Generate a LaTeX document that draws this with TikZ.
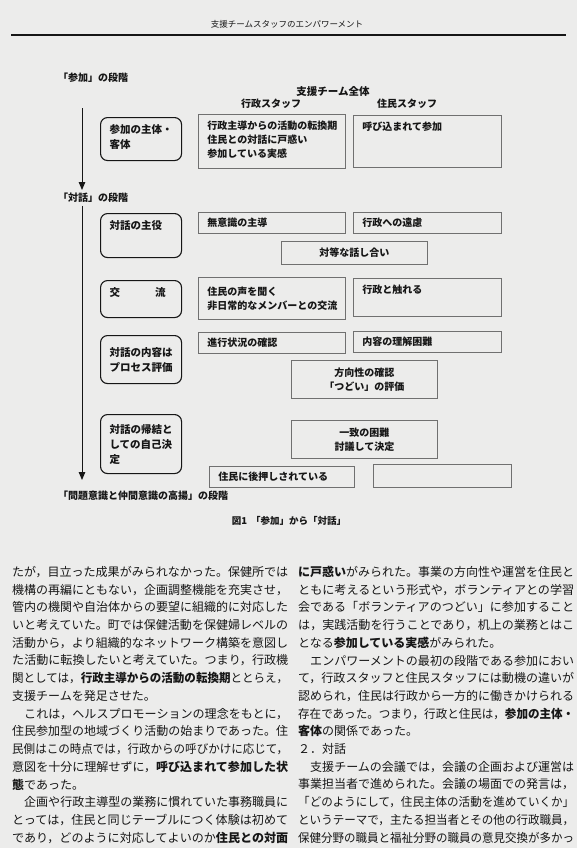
\documentclass[tikz,border=0pt]{standalone}
\usepackage{fontspec}
\usepackage{graphicx}
\usepackage{tikz}
\usetikzlibrary{positioning, arrows.meta, calc}
\newfontfamily\jp{Noto Sans CJK JP}
\definecolor{paper}{RGB}{236,236,235}
\definecolor{ink}{RGB}{22,22,22}
\definecolor{boxline}{RGB}{112,112,112}
\newcommand{\bodyfont}{\jp\fontsize{12bp}{14bp}\selectfont}
\newcommand{\figfont}{\jp\bfseries\fontsize{10bp}{14bp}\selectfont}
\newcommand{\rolefont}{\jp\bfseries\fontsize{10.5bp}{15bp}\selectfont}
\newcommand{\fitline}[1]{\resizebox{276bp}{\height}{#1}}
\newcommand{\cellpar}[4][t]{\parbox[c][#3][#1]{#2}{\raggedright #4}}

\begin{document}
\begin{tikzpicture}[x=1bp, y=-1bp,
    role/.style={draw=ink, line width=1.1bp, rounded corners=7bp, anchor=north west,
                 inner xsep=9bp, inner ysep=7bp, font=\rolefont},
    cell/.style={draw=boxline, line width=0.9bp, anchor=north west,
                 inner xsep=9bp, inner ysep=6bp, font=\figfont},
    stage/.style={anchor=west, inner xsep=0pt, inner ysep=3bp, font=\figfont},
    colhead/.style={inner sep=1bp, font=\figfont},
    body/.style={anchor=west, inner sep=0pt, font=\bodyfont},
    flow/.style={draw=ink, line width=1bp, -{Triangle[length=8bp, width=6.5bp]}},
    every node/.append style={text=ink}
  ]
  \useasboundingbox (0,0) rectangle (577,848);
  \fill[paper] (0,0) rectangle (577,848);

  % --- running head ---
  \node[font=\jp\fontsize{8.5bp}{10bp}\selectfont] (runhead) at (287,24)
       {支援チームスタッフのエンパワーメント};
  \draw[ink, line width=1.1bp] (11,35) -- (566,35);

  % --- stages and time axis ---
  \node[stage] (stage1) at (58,78) {「参加」の段階};
  \node[stage] (stage2) at (58,198) {「対話」の段階};
  \node[stage] (stage3) at (58,496) {「問題意識と仲間意識の高揚」の段階};
  \coordinate (axis) at (82,108);
  \draw[flow] (axis) -- (axis |- stage2.north);
  \draw[flow, shorten >=8bp] (axis |- stage2.south) -- (axis |- stage3.north);

  % column heads
  \node[colhead, font=\jp\bfseries\fontsize{10.5bp}{12bp}\selectfont] (team) at (333,91) {支援チーム全体};
  \node[colhead] (gyosei) at (271,104) {行政スタッフ};
  \node[colhead] (jumin) at (407,104) {住民スタッフ};

  % --- role boxes ---
  \node[role] (r1) at (100,117) {\cellpar{63bp}{29bp}{参加の主体・\\客体}};
  \node[role] (r2) at (100,213) {\cellpar{63bp}{30bp}{対話の主役}};
  \node[role] (r3) at (100,280) {\cellpar{63bp}{23bp}{交\hspace{35bp}流}};
  \node[role] (r4) at (100,335) {\cellpar[c]{63bp}{34bp}{対話の内容は\\プロセス評価}};
  \node[role] (r5) at (100,414) {\cellpar[c]{63bp}{45bp}{対話の帰結と\\しての自己決\\定}};

  % --- staff cells ---
  \node[cell] (g1) at (198,114) {\cellpar{129bp}{42bp}{行政主導からの活動の転換期\\住民との対話に戸惑い\\参加している実感}};
  \node[cell] (j1) at (353,115) {\cellpar{130bp}{40bp}{呼び込まれて参加}};
  \node[cell] (g2) at (198,212) {\cellpar[c]{129bp}{9bp}{無意識の主導}};
  \node[cell] (j2) at (353,212) {\cellpar[c]{130bp}{9bp}{行政への遠慮}};
  \node[cell] (s1) at (281,241) {\cellpar[c]{128bp}{11bp}{\centering 対等な話し合い}};
  \node[cell] (g3) at (198,277) {\cellpar[c]{129bp}{30bp}{住民の声を聞く\\非日常的なメンバーとの交流}};
  \node[cell] (j3) at (353,278) {\cellpar{130bp}{26bp}{行政と触れる}};
  \node[cell] (g4) at (198,332) {\cellpar[c]{129bp}{9bp}{進行状況の確認}};
  \node[cell] (j4) at (353,331) {\cellpar[c]{130bp}{9bp}{内容の理解困難}};
  \node[cell] (s2) at (291,360) {\cellpar[c]{128bp}{26bp}{\centering 方向性の確認\\「つどい」の評価}};
  \node[cell] (s3) at (291,420) {\cellpar[c]{128bp}{26bp}{\centering 一致の困難\\討議して決定}};
  \node[cell] (s4) at (209,466) {\cellpar[c]{127bp}{9bp}{住民に後押しされている}};
  \node[cell, inner sep=0pt, minimum width=138bp, minimum height=23bp] (j5) at (373,464) {};

  \node[font=\jp\bfseries\fontsize{9.5bp}{12bp}\selectfont] (caption) at (289,521)
       {図1\hspace{4bp}「参加」から「対話」};

  % --- body text, left column ---
  \foreach \row/\linetext in {
      0/{たが，目立った成果がみられなかった。保健所では},
      1/{機構の再編にともない，企画調整機能を充実させ，},
      2/{管内の機関や自治体からの要望に組織的に対応した},
      3/{いと考えていた。町では保健活動を保健婦レベルの},
      4/{活動から，より組織的なネットワーク構築を意図し},
      5/{た活動に転換したいと考えていた。つまり，行政機},
      6/{関としては，{\bfseries 行政主導からの活動の転換期}ととらえ，},
      8/{　これは，ヘルスプロモーションの理念をもとに，},
      9/{住民参加型の地域づくり活動の始まりであった。住},
      10/{民側はこの時点では，行政からの呼びかけに応じて，},
      11/{意図を十分に理解せずに，{\bfseries 呼び込まれて参加した状}},
      13/{　企画や行政主導型の業務に慣れていた事務職員に},
      14/{とっては，住民と同じテーブルにつく体験は初めて},
      15/{であり，どのように対応してよいのか{\bfseries 住民との対面}}} {
    \node[body] (left\row) at (12,{572+17.7*\row}) {\fitline{\linetext}};
  }
  \node[body] (left7) at (12,{572+17.7*7}) {支援チームを発足させた。};
  \node[body] (left12) at (12,{572+17.7*12}) {{\bfseries 態}であった。};

  % --- body text, right column ---
  \foreach \row/\linetext in {
      0/{{\bfseries に戸惑い}がみられた。事業の方向性や運営を住民と},
      1/{ともに考えるという形式や，ボランティアとの学習},
      2/{会である「ボランティアのつどい」に参加すること},
      3/{は，実践活動を行うことであり，机上の業務とはこ},
      5/{　エンパワーメントの最初の段階である参加におい},
      6/{て，行政スタッフと住民スタッフには動機の違いが},
      7/{認められ，住民は行政から一方的に働きかけられる},
      8/{存在であった。つまり，行政と住民は，{\bfseries 参加の主体・}},
      11/{　支援チームの会議では，会議の企画および運営は},
      12/{事業担当者で進められた。会議の場面での発言は，},
      13/{「どのようにして，住民主体の活動を進めていくか」},
      14/{というテーマで，主たる担当者とその他の行政職員，},
      15/{保健分野の職員と福祉分野の職員の意見交換が多かっ}} {
    \node[body] (right\row) at (298,{572+17.7*\row}) {\fitline{\linetext}};
  }
  \node[body] (right4) at (298,{572+17.7*4}) {となる{\bfseries 参加している実感}がみられた。};
  \node[body] (right9) at (298,{572+17.7*9}) {{\bfseries 客体}の関係であった。};
  \node[body] (right10) at (298,{572+17.7*10}) {２．対話};
\end{tikzpicture}
\end{document}
